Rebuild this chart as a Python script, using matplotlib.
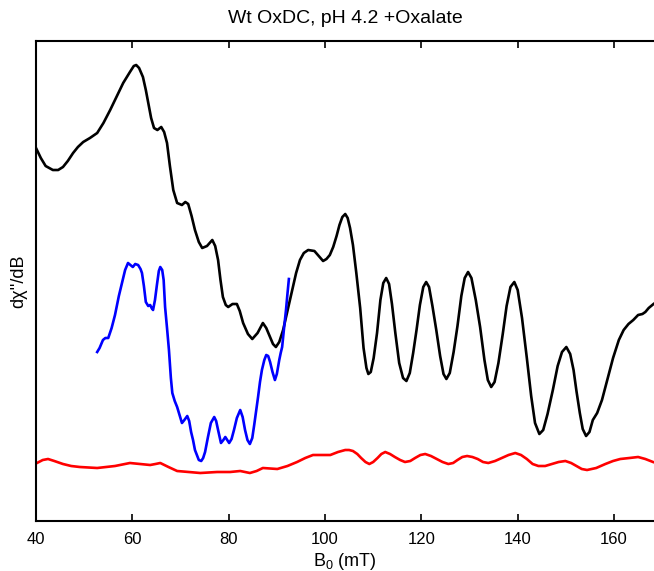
import numpy as np
import matplotlib
matplotlib.use("Agg")
import matplotlib.pyplot as plt

plt.rcParams['font.family'] = ['Liberation Sans', 'DejaVu Sans']
plt.rcParams['mathtext.fontset'] = 'custom'
plt.rcParams['mathtext.rm'] = 'Liberation Sans'
plt.rcParams['mathtext.it'] = 'Liberation Sans:italic'

# field (mT) and derivative signal (a.u.)
b_black = [40.0, 41.0, 42.0, 43.5, 44.6, 45.6, 46.6, 47.7, 48.7, 49.8, 51.2, 52.7,
           54.0, 55.4, 56.8, 58.1, 59.5, 60.3, 60.8, 61.4, 62.2, 62.8, 63.3, 63.9,
           64.5, 65.2, 66.0, 66.6, 67.2, 67.8, 68.5, 69.3, 70.3, 71.0, 71.6, 72.3,
           73.0, 73.8, 74.5, 75.5, 76.6, 77.2, 77.8, 78.3, 78.8, 79.4, 79.9, 80.8,
           81.7, 82.3, 83.0, 84.0, 84.9, 86.0, 87.1, 87.8, 88.6, 89.2, 89.8, 90.5,
           91.3, 92.2, 93.2, 94.0, 94.8, 95.6, 96.5, 97.8, 98.7, 99.6, 100.3, 101.0,
           101.7, 102.4, 103.0, 103.6, 104.2, 104.7, 105.2, 105.8, 106.5, 107.3, 108.0,
           108.6, 109.0, 109.5, 110.1, 110.8, 111.5, 112.1, 112.7, 113.3, 113.9, 114.6,
           115.4, 116.2, 116.9, 117.6, 118.3, 119.0, 119.7, 120.4, 121.0, 121.6, 122.3,
           123.1, 123.9, 124.6, 125.2, 125.9, 126.7, 127.5, 128.3, 129.0, 129.7, 130.4,
           131.3, 132.2, 133.1, 133.8, 134.5, 135.2, 136.0, 136.9, 137.7, 138.5, 139.3,
           140.0, 140.9, 141.9, 142.8, 143.6, 144.5, 145.3, 146.2, 147.3, 148.3, 149.2,
           150.1, 150.9, 151.6, 152.2, 152.9, 153.5, 154.2, 154.9, 155.6, 156.5, 157.5,
           158.6, 159.8, 161.0, 162.0, 163.0, 164.0, 165.0, 165.9, 166.5, 167.2, 168.2]
y_black = [370, 360, 352, 348, 348, 351, 357, 365, 371, 376, 380, 385,
           395, 408, 422, 435, 446, 452, 453, 450, 441, 428, 415, 400,
           390, 388, 391, 386, 375, 352, 328, 315, 313, 316, 314, 302,
           288, 276, 270, 272, 278, 272, 258, 238, 221, 213, 211, 214,
           214, 207, 195, 184, 179, 185, 195, 190, 181, 174, 171, 176,
           188, 207, 228, 245, 258, 265, 268, 267, 262, 257, 259, 263,
           271, 282, 293, 301, 304, 300, 290, 273, 245, 210, 170,
           150, 144, 146, 160, 185, 218, 235, 240, 234, 214, 185,
           155, 140, 137, 145, 165, 188, 213, 231, 236, 231, 212,
           188, 162, 144, 139, 145, 166, 192, 222, 240, 246, 240,
           218, 191, 158, 138, 131, 136, 155, 184, 212, 231, 236,
           228, 200, 160, 122, 95, 84, 88, 104, 128, 152, 166,
           171, 164, 148, 127, 105, 89, 82, 86, 98, 105, 118,
           138, 160, 178, 188, 194, 198, 203, 204, 206, 210, 214]

b_blue = [52.7, 53.2, 53.9, 54.4, 55.0, 55.7, 56.4, 57.2, 57.9, 58.5, 59.1, 59.6,
          60.1, 60.6, 61.2, 61.7, 62.0, 62.4, 62.8, 63.3, 63.7, 64.0, 64.3, 64.7,
          65.1, 65.5, 65.8, 66.2, 66.5, 66.8, 67.2, 67.6, 68.0, 68.3, 68.8, 69.3,
          69.8, 70.3, 70.8, 71.4, 71.8, 72.2, 72.6, 73.0, 73.4, 73.8, 74.3, 74.7,
          75.1, 75.7, 76.3, 77.0, 77.4, 77.8, 78.4, 78.9, 79.3, 79.7, 80.1, 80.6,
          81.1, 81.7, 82.4, 82.9, 83.4, 83.9, 84.4, 84.9, 85.3, 85.7, 86.1, 86.5,
          86.9, 87.4, 87.8, 88.2, 88.6, 89.1, 89.6, 90.0, 90.5, 90.8, 91.1, 91.5,
          91.9, 92.2, 92.5]
y_blue = [166, 170, 178, 180, 180, 190, 203, 222, 236, 248, 255, 253,
          251, 254, 253, 249, 245, 232, 216, 212, 213, 210, 208, 218,
          233, 247, 251, 248, 238, 211, 190, 168, 140, 125, 117, 111,
          103, 95, 98, 102, 97, 86, 78, 68, 63, 58, 57, 60,
          66, 81, 95, 101, 97, 88, 75, 78, 81, 78, 75, 79,
          88, 100, 108, 101, 88, 78, 74, 80, 93, 107, 121, 136,
          148, 158, 163, 162, 156, 146, 138, 144, 158, 165, 171, 190,
          208, 224, 239]

b_red = [40.2, 41.4, 42.5, 43.8, 45.6, 47.3, 49.1, 52.7, 56.4, 59.5, 61.6, 63.7,
         64.8, 65.8, 67.5, 69.3, 71.7, 74.1, 77.6, 80.3, 82.4, 84.4, 85.8, 87.1,
         90.1, 92.2, 94.2, 95.9, 97.5, 99.3, 101.1, 102.7, 104.2, 105.0, 105.8, 106.7,
         107.5, 108.4, 109.2, 110.0, 110.9, 111.7, 112.5, 113.5, 114.5, 115.6, 116.6,
         117.7, 118.7, 119.8, 120.8, 122.0, 123.2, 124.4, 125.6, 126.6, 127.5, 128.5,
         129.5, 130.6, 131.7, 132.8, 133.9, 135.3, 136.7, 138.1, 139.5, 140.7, 141.9,
         143.1, 144.3, 145.7, 147.1, 148.5, 149.9, 151.1, 152.2, 153.3, 154.4, 156.3,
         158.2, 159.8, 161.3, 163.2, 165.0, 166.5, 168.1]
y_red = [55, 58, 59, 57, 54, 52, 51, 50, 52, 55, 54, 53,
         54, 55, 51, 47, 46, 45, 46, 46, 47, 45, 47, 50,
         49, 52, 56, 60, 63, 63, 63, 66, 68, 68, 67, 64,
         60, 56, 54, 56, 60, 64, 66, 64, 61, 58, 56,
         57, 60, 63, 64, 62, 59, 56, 54, 55, 58, 61,
         62, 61, 59, 56, 55, 57, 60, 63, 65, 63, 59,
         54, 52, 52, 54, 56, 57, 55, 52, 49, 48, 50,
         54, 57, 59, 60, 61, 59, 56]

xticks = [40, 60, 80, 100, 120, 140, 160]

fig = plt.figure(figsize=(6.54, 5.71), dpi=100)
ax = fig.add_axes([36/654, 50/571, 1 - 36/654, 480/571])

for xs, ys, c in [(b_black, y_black, 'black'), (b_blue, y_blue, '#0000ff'),
                  (b_red, y_red, '#ff0000')]:
    ax.plot(xs, ys, color=c, lw=1.9, solid_joinstyle='round')

ax.set_xlim(40, 168.3)
ax.set_ylim(-3, 477)
ax.set_xticks(xticks)
ax.set_yticks([])
ax.tick_params(axis='x', direction='in', top=True, length=5, width=1.2,
               labelsize=12, pad=8)
for s in ['left', 'top', 'bottom']:
    ax.spines[s].set_linewidth(1.5)
ax.spines['right'].set_visible(False)

ax.set_title('Wt OxDC, pH 4.2 +Oxalate', fontsize=14, pad=13)
ax.set_xlabel(r'B$_0$ (mT)', fontsize=13, labelpad=3)
ax.set_ylabel("dχ''/dB", fontsize=13, labelpad=6)

fig.savefig('out.png', dpi=100)
